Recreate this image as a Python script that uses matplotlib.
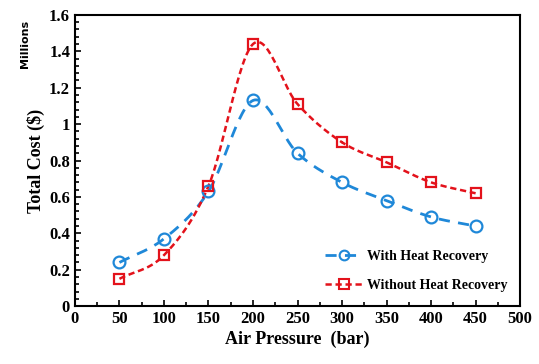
import numpy as np
import matplotlib.pyplot as plt
from matplotlib.ticker import MultipleLocator

# data (values in millions $)
pressure = [50, 100, 150, 200, 250, 300, 350, 400, 450]
with_hr = [0.24, 0.37, 0.63, 1.13, 0.84, 0.68, 0.58, 0.49, 0.44]
without_hr = [0.15, 0.28, 0.66, 1.44, 1.11, 0.90, 0.79, 0.68, 0.62]


def smooth(x, y, n=30):
    # Catmull-Rom curve through the points, like Excel's "smoothed line"
    x = np.asarray(x, float)
    y = np.asarray(y, float)
    px = np.concatenate([[2 * x[0] - x[1]], x, [2 * x[-1] - x[-2]]])
    py = np.concatenate([[2 * y[0] - y[1]], y, [2 * y[-1] - y[-2]]])
    t = np.linspace(0, 1, n)
    xs, ys = [], []
    for i in range(1, len(px) - 2):
        for p, out in ((px, xs), (py, ys)):
            p0, p1, p2, p3 = p[i - 1], p[i], p[i + 1], p[i + 2]
            out.extend(0.5 * (2 * p1 + (-p0 + p2) * t
                              + (2 * p0 - 5 * p1 + 4 * p2 - p3) * t ** 2
                              + (-p0 + 3 * p1 - 3 * p2 + p3) * t ** 3))
    return np.array(xs), np.array(ys)


plt.rcParams['font.family'] = 'Liberation Serif'
plt.rcParams['font.weight'] = 'bold'

fig = plt.figure(figsize=(5.39, 3.64), dpi=100)
ax = fig.add_axes([0.139, 0.159, 0.826, 0.8])

blue = '#1f88d8'
red = '#e3121b'

sx, sy = smooth(pressure, with_hr)
ax.plot(sx, sy, color=blue, lw=2, ls=(0, (4, 3)))
sx, sy = smooth(pressure, without_hr)
ax.plot(sx, sy, color=red, lw=1.8, ls=(0, (2.5, 1.5)))
ax.plot(pressure, with_hr, ls='none', marker='o', ms=8.5, mfc='none', mec=blue, mew=1.6)
ax.plot(pressure, without_hr, ls='none', marker='s', ms=7.5, mfc='none', mec=red, mew=1.6)

# legend handles
h1, = ax.plot([], [], color=blue, lw=2, ls=(0, (4, 3)), marker='o', ms=7, mfc='none', mec=blue, mew=1.5)
h2, = ax.plot([], [], color=red, lw=1.8, ls=(0, (2.5, 1.5)), marker='s', ms=7, mfc='none', mec=red, mew=1.5)
ax.legend([h1, h2], ['With Heat Recovery', 'Without Heat Recovery'], loc='lower right',
          frameon=False, fontsize=10, handlelength=2.6, handletextpad=0.4, labelspacing=1.2,
          bbox_to_anchor=(1.0, 0.005))

ax.set_xlim(0, 500)
ax.set_ylim(0, 1.6)
ax.xaxis.set_major_locator(MultipleLocator(50))
ax.xaxis.set_minor_locator(MultipleLocator(25))
ax.yaxis.set_minor_locator(MultipleLocator(0.04))
ax.set_yticks([0, 0.2, 0.4, 0.6, 0.8, 1.0, 1.2, 1.4, 1.6])
ax.set_yticklabels(['0', '0.2', '0.4', '0.6', '0.8', '1', '1.2', '1.4', '1.6'])
ax.tick_params(which='both', direction='in', labelsize=12, width=1.2)
ax.tick_params(which='major', length=4)
ax.tick_params(which='minor', length=3)
for s in ax.spines.values():
    s.set_linewidth(1.5)

ax.set_xlabel('Air Pressure  (bar)', fontsize=13, fontweight='bold', labelpad=3)
ax.set_ylabel('Total Cost ($)', fontsize=13, fontweight='bold', labelpad=3)
fig.text(0.046, 0.945, 'Millions', rotation=90, fontsize=8, family='DejaVu Sans',
         fontweight='bold', ha='center', va='top')

fig.savefig('out.png', dpi=100)
